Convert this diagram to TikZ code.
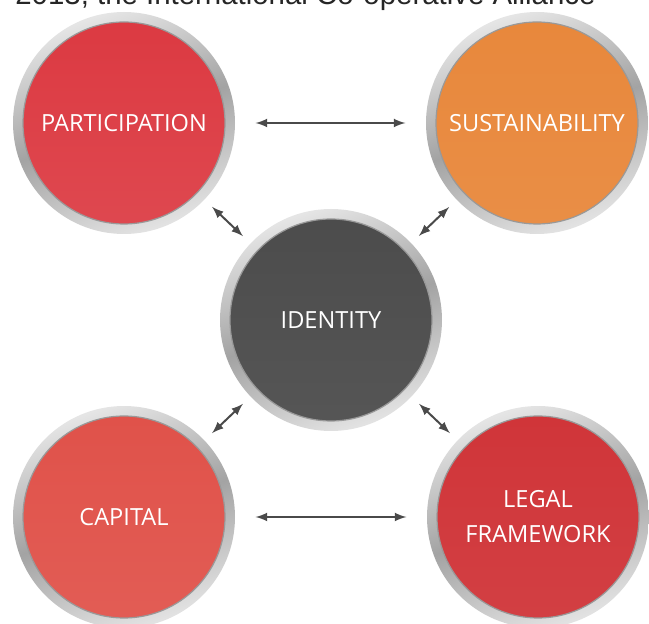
\documentclass[tikz,border=0pt]{standalone}
\usepackage{fontspec}
\setmainfont{Open Sans}
\newfontfamily\captionfont{Liberation Sans}

\definecolor{partred}{HTML}{DC3A42}
\definecolor{sustorange}{HTML}{E8883C}
\definecolor{idengray}{HTML}{505050}
\definecolor{capired}{HTML}{E0524A}
\definecolor{legalred}{HTML}{D03539}
\definecolor{arrowgray}{HTML}{4A4A4A}

\begin{document}
\begin{tikzpicture}[>=latex,x=0.5pt,y=-0.5pt,
  ring/.style={top color=gray!20,bottom color=gray!22,middle color=gray!72,shading angle=20},
  disc/.style={circle,minimum size=101pt,inner sep=0pt,draw=black!40,line width=0.6pt,
    text=white,align=center,font=\fontsize{11.8}{17.5}\selectfont},
  link/.style={<->,line width=1pt,draw=arrowgray},
  hlink/.style={link,shorten <=15pt,shorten >=15pt},
  dlink/.style={link,shorten <=10pt,shorten >=10pt}]
\useasboundingbox (0,0) rectangle (649,624);
\clip (0,0) rectangle (649,624);

% cut-off caption at the top
\node[anchor=base west,inner sep=0pt,text=black!85,
  font=\captionfont\fontsize{14.7}{16}\selectfont] (caption) at (15,5)
  {2013, the International Co-operative Alliance};

% silver rings
\shade[ring] (124,123) circle (55.5pt);
\shade[ring] (537,123) circle (55.5pt);
\shade[ring] (331,320) circle (55.5pt);
\shade[ring] (124,517) circle (55.5pt);
\shade[ring] (538,517) circle (55.5pt);

% discs
\node[disc,top color=partred,bottom color=partred!93!white] (part) at (124,123) {PARTICIPATION};
\node[disc,top color=sustorange,bottom color=sustorange!95!white] (sust) at (537,123) {SUSTAINABILITY};
\node[disc,top color=idengray!95!black,bottom color=idengray!97!white] (iden) at (331,320) {IDENTITY};
\node[disc,top color=capired,bottom color=capired!94!white] (capi) at (124,517) {CAPITAL};
\node[disc,top color=legalred,bottom color=legalred!95!white] (legal) at (538,517) {LEGAL\\FRAMEWORK};

% arrows
\draw[hlink] (part) -- (sust);
\draw[hlink] (capi) -- (legal);
\draw[dlink] (part) -- (iden);
\draw[dlink] (sust) -- (iden);
\draw[dlink] (capi) -- (iden);
\draw[dlink] (legal) -- (iden);
\end{tikzpicture}
\end{document}
